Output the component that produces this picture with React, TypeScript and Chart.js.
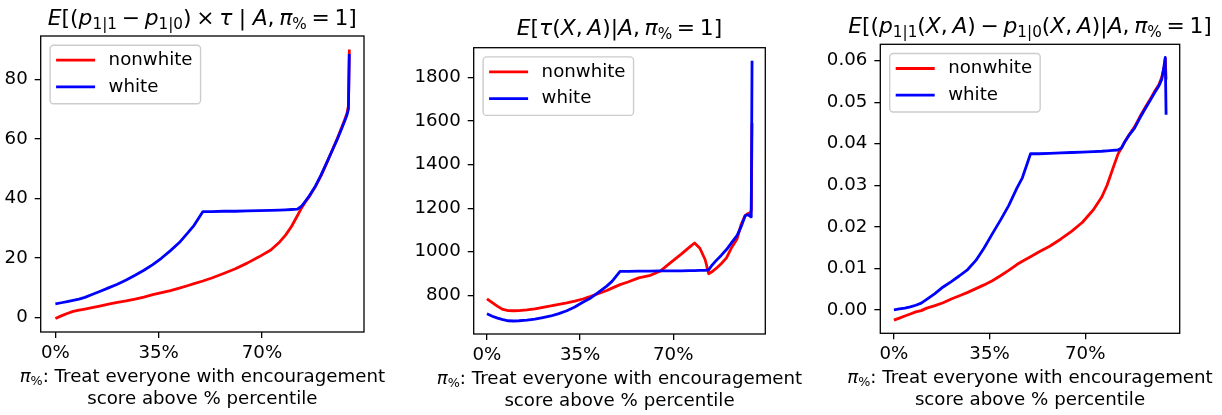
import React, { useEffect, useRef } from "react";
import { Chart, registerables } from "chart.js";

Chart.register(...registerables);

const FONT = "DejaVu Sans";
const FS = 18.2;
const TITLE_FS = 21.8;

// ---------- data ----------
const pct = [0, 2, 4, 6, 8, 10, 12, 15, 18, 21, 24, 27, 30, 33, 36, 39, 42, 45, 47, 50, 53, 57, 61, 65, 69, 73, 76, 78, 80, 82, 83.3, 84.5, 86, 88, 90, 92, 94, 95.5, 97, 98, 98.8, 99.3, 99.6];

const p1Nonwhite = [-0.3, 0.6, 1.4, 2.1, 2.5, 2.9, 3.3, 3.9, 4.5, 5.1, 5.6, 6.2, 6.9, 7.7, 8.4, 9.1, 9.9, 10.8, 11.4, 12.3, 13.3, 14.8, 16.4, 18.3, 20.4, 22.7, 25.4, 27.7, 30.6, 34.2, 36.6, 38.5, 40.6, 43.8, 47.6, 52.0, 56.6, 60.0, 63.8, 66.3, 68.5, 71.0, 90.0];
const p1White = [4.6, 5.0, 5.4, 5.8, 6.2, 6.8, 7.6, 8.8, 10.0, 11.2, 12.6, 14.2, 15.9, 17.8, 20.0, 22.5, 25.2, 28.6, 31.0, 35.6, 35.6, 35.7, 35.7, 35.8, 35.9, 36.0, 36.1, 36.2, 36.3, 36.4, 37.3, 38.8, 40.8, 43.9, 47.8, 52.1, 56.5, 59.8, 63.4, 65.9, 68.0, 70.0, 88.5];

const p2Nonwhite = [784, 766, 749, 735, 730, 729, 730, 733, 738, 745, 751, 758, 765, 773, 783, 795, 808, 822, 833, 849, 861, 880, 890, 910, 950, 989, 1020, 1040, 1016, 963, 899, 908, 922, 945, 972, 1021, 1060, 1125, 1166, 1175, 1178, 1190, 1590];
const p2White = [715, 704, 695, 688, 683, 682, 683, 686, 691, 698, 705, 716, 729, 746, 768, 788, 815, 842, 864, 910, 910, 911, 911, 912, 912, 912, 913, 913, 914, 915, 917, 937, 958, 983, 1010, 1043, 1075, 1115, 1165, 1170, 1163, 1160, 1877];

const p3Nonwhite = [-0.0025, -0.002, -0.0015, -0.001, -0.0005, -0.0002, 0.0004, 0.001, 0.0017, 0.0026, 0.0034, 0.0042, 0.0051, 0.006, 0.007, 0.0082, 0.0095, 0.0109, 0.0117, 0.0128, 0.0139, 0.0153, 0.017, 0.0189, 0.0211, 0.0241, 0.0271, 0.03, 0.0338, 0.0375, 0.039, 0.0405, 0.0421, 0.044, 0.0465, 0.0488, 0.051, 0.0527, 0.0543, 0.056, 0.0582, 0.0605, 0.0555];
const p3White = [0.0, 0.0002, 0.0004, 0.0007, 0.0011, 0.0016, 0.0025, 0.0039, 0.0055, 0.0068, 0.0082, 0.0097, 0.0119, 0.0149, 0.0183, 0.0216, 0.0251, 0.0293, 0.0318, 0.0376, 0.0376, 0.0377, 0.0378, 0.0379, 0.038, 0.0381, 0.0382, 0.0383, 0.0384, 0.0385, 0.039, 0.0405, 0.042, 0.0437, 0.0462, 0.0485, 0.0507, 0.0524, 0.054, 0.0555, 0.0585, 0.0608, 0.047];

const xTickValues = [0, 35, 70];
const xTickLabels = ["0%", "35%", "70%"];
const p1YTicks = [0, 20, 40, 60, 80];
const p2YTicks = [800, 1000, 1200, 1400, 1600, 1800];
const p3YTicks = [0, 0.01, 0.02, 0.03, 0.04, 0.05, 0.06];
const seriesLabels = ["nonwhite", "white"];
const seriesColors = ["#ff0000", "#0000ff"];

// text pieces: t = text, i = italic, s = subscript, g = gap (em)
type Seg = { t: string; i?: boolean; s?: boolean; g?: number };
const SP = 0.215;
const TH = 0.3;

const title1: Seg[] = [
  { t: "E", i: true }, { t: "[(" }, { t: "p", i: true }, { t: "1|1", s: true },
  { t: "", g: SP }, { t: "−" }, { t: "", g: SP }, { t: "p", i: true }, { t: "1|0", s: true },
  { t: ")" }, { t: "", g: SP }, { t: "×" }, { t: "", g: SP },
  { t: "τ", i: true }, { t: "", g: TH }, { t: "|" }, { t: "", g: TH }, { t: "A", i: true }, { t: "," }, { t: "", g: SP },
  { t: "π", i: true }, { t: "%", s: true }, { t: "", g: SP }, { t: "=" }, { t: "", g: SP }, { t: "1]" },
];
const title2: Seg[] = [
  { t: "E", i: true }, { t: "[" }, { t: "τ", i: true }, { t: "(" }, { t: "X", i: true },
  { t: "," }, { t: "", g: SP }, { t: "A", i: true }, { t: ")|" }, { t: "A", i: true }, { t: "," }, { t: "", g: SP },
  { t: "π", i: true }, { t: "%", s: true }, { t: "", g: SP }, { t: "=" }, { t: "", g: SP }, { t: "1]" },
];
const title3: Seg[] = [
  { t: "E", i: true }, { t: "[(" }, { t: "p", i: true }, { t: "1|1", s: true },
  { t: "(" }, { t: "X", i: true }, { t: "," }, { t: "", g: SP }, { t: "A", i: true }, { t: ")" },
  { t: "", g: SP }, { t: "−" }, { t: "", g: SP },
  { t: "p", i: true }, { t: "1|0", s: true }, { t: "(" }, { t: "X", i: true },
  { t: "," }, { t: "", g: SP }, { t: "A", i: true }, { t: ")|" }, { t: "A", i: true }, { t: "," }, { t: "", g: SP },
  { t: "π", i: true }, { t: "%", s: true }, { t: "", g: SP }, { t: "=" }, { t: "", g: SP }, { t: "1]" },
];
const xLabelLine1: Seg[] = [
  { t: "π", i: true }, { t: "%", s: true }, { t: ": Treat everyone with encouragement" },
];
const xLabelLine2: Seg[] = [{ t: "score above % percentile" }];

// ---------- drawing helpers ----------
function fontStr(size: number, italic: boolean) {
  return `${italic ? "italic " : ""}${size}px "${FONT}"`;
}

function drawRich(ctx: CanvasRenderingContext2D, segs: Seg[], cx: number, y: number, size: number) {
  const widths = segs.map((sg) => {
    if (sg.g) return sg.g * size;
    ctx.font = fontStr(sg.s ? size * 0.7 : size, !!sg.i);
    return ctx.measureText(sg.t).width;
  });
  const total = widths.reduce((a, b) => a + b, 0);
  let x = cx - total / 2;
  ctx.textAlign = "left";
  ctx.textBaseline = "alphabetic";
  ctx.fillStyle = "#000";
  segs.forEach((sg, k) => {
    if (sg.t) {
      ctx.font = fontStr(sg.s ? size * 0.7 : size, !!sg.i);
      ctx.fillText(sg.t, x, y + (sg.s ? size * 0.17 : 0));
    }
    x += widths[k];
  });
}

function roundRectPath(ctx: CanvasRenderingContext2D, x: number, y: number, w: number, h: number, r: number) {
  ctx.beginPath();
  ctx.moveTo(x + r, y);
  ctx.lineTo(x + w - r, y);
  ctx.arcTo(x + w, y, x + w, y + r, r);
  ctx.lineTo(x + w, y + h - r);
  ctx.arcTo(x + w, y + h, x + w - r, y + h, r);
  ctx.lineTo(x + r, y + h);
  ctx.arcTo(x, y + h, x, y + h - r, r);
  ctx.lineTo(x, y + r);
  ctx.arcTo(x, y, x + r, y, r);
  ctx.closePath();
}

const LINE_W = 2.8;

const decorPlugin = {
  id: "decor",
  afterDatasetsDraw(chart: any, _args: any, opts: any) {
    const ctx: CanvasRenderingContext2D = chart.ctx;
    const a = chart.chartArea;
    ctx.save();
    // axes box
    ctx.strokeStyle = "#000";
    ctx.lineWidth = 1.3;
    ctx.strokeRect(a.left, a.top, a.right - a.left, a.bottom - a.top);

    // legend
    ctx.font = fontStr(FS, false);
    const tw = Math.max(...seriesLabels.map((l) => ctx.measureText(l).width));
    const bx = a.left + 9.4;
    const by = a.top + 9.2;
    const bw = 58.5 + tw + 8;
    const bh = 58.5;
    roundRectPath(ctx, bx, by, bw, bh, 3.5);
    ctx.fillStyle = "rgba(255,255,255,0.8)";
    ctx.fill();
    ctx.strokeStyle = "#cccccc";
    ctx.lineWidth = 1.4;
    ctx.stroke();
    const rows = [15, 41.7];
    seriesLabels.forEach((lab, k) => {
      const ry = by + rows[k];
      ctx.strokeStyle = seriesColors[k];
      ctx.lineWidth = LINE_W;
      ctx.lineCap = "butt";
      ctx.beginPath();
      ctx.moveTo(bx + 6, ry);
      ctx.lineTo(bx + 45, ry);
      ctx.stroke();
      ctx.fillStyle = "#000";
      ctx.font = fontStr(FS, false);
      ctx.textAlign = "left";
      ctx.textBaseline = "middle";
      ctx.fillText(lab, bx + 58.5, ry);
    });

    // title
    const cx = (a.left + a.right) / 2;
    drawRich(ctx, opts.title, cx, opts.titleBaseline, TITLE_FS);
    // x label
    drawRich(ctx, xLabelLine1, cx, a.bottom + 50, FS);
    drawRich(ctx, xLabelLine2, cx, a.bottom + 71.5, FS);
    ctx.restore();
  },
};

type PanelCfg = {
  left: number;
  width: number;
  area: { l: number; t: number; r: number; b: number };
  nonwhite: number[];
  white: number[];
  yTicks: number[];
  decimals: number;
  title: Seg[];
  titleBaseline: number;
};

const H = 415;

const panels: PanelCfg[] = [
  { left: 0, width: 410, area: { l: 40.7, t: 36, r: 364, b: 332 }, nonwhite: p1Nonwhite, white: p1White, yTicks: p1YTicks, decimals: 0, title: title1, titleBaseline: 25 },
  { left: 410, width: 402, area: { l: 63.7, t: 47.7, r: 355.3, b: 334 }, nonwhite: p2Nonwhite, white: p2White, yTicks: p2YTicks, decimals: 0, title: title2, titleBaseline: 35 },
  { left: 812, width: 410, area: { l: 68.3, t: 44.3, r: 367.7, b: 333.3 }, nonwhite: p3Nonwhite, white: p3White, yTicks: p3YTicks, decimals: 2, title: title3, titleBaseline: 33.3 },
];

function Panel({ cfg }: { cfg: PanelCfg }) {
  const ref = useRef<HTMLCanvasElement | null>(null);
  useEffect(() => {
    if (!ref.current) return;
    const all = [...cfg.nonwhite, ...cfg.white];
    const lo = Math.min(...all);
    const hi = Math.max(...all);
    const my = (hi - lo) * 0.05;
    const xlo = Math.min(...pct);
    const xhi = Math.max(...pct);
    const mx = (xhi - xlo) * 0.05;
    const tickFont = { family: FONT, size: FS };
    const chart = new Chart(ref.current, {
      type: "line",
      data: {
        datasets: [
          {
            label: seriesLabels[0],
            data: pct.map((x, i) => ({ x, y: cfg.nonwhite[i] })),
            borderColor: seriesColors[0],
            backgroundColor: seriesColors[0],
            borderWidth: LINE_W,
            pointRadius: 0,
            tension: 0,
            fill: false,
            borderJoinStyle: "round",
            order: 2,
          },
          {
            label: seriesLabels[1],
            data: pct.map((x, i) => ({ x, y: cfg.white[i] })),
            borderColor: seriesColors[1],
            backgroundColor: seriesColors[1],
            borderWidth: LINE_W,
            pointRadius: 0,
            tension: 0,
            fill: false,
            borderJoinStyle: "round",
            order: 1,
          },
        ],
      },
      options: {
        responsive: false,
        animation: false,
        events: [],
        layout: { padding: { left: 0, top: cfg.area.t, right: cfg.width - cfg.area.r, bottom: 0 } },
        plugins: {
          legend: { display: false },
          title: { display: false },
          tooltip: { enabled: false },
          decor: { title: cfg.title, titleBaseline: cfg.titleBaseline },
        } as any,
        scales: {
          x: {
            type: "linear",
            min: xlo - mx,
            max: xhi + mx,
            afterBuildTicks: (ax: any) => {
              ax.ticks = xTickValues.map((v) => ({ value: v }));
            },
            afterFit: (ax: any) => {
              ax.height = H - cfg.area.b;
            },
            ticks: {
              color: "#000",
              font: tickFont,
              padding: 4,
              maxRotation: 0,
              autoSkip: false,
              callback: (_v: any, i: number) => xTickLabels[i],
            },
            grid: { drawOnChartArea: false, drawTicks: true, tickLength: 6, color: "#000", lineWidth: 1.3 },
            border: { display: false },
          },
          y: {
            type: "linear",
            min: lo - my,
            max: hi + my,
            afterBuildTicks: (ax: any) => {
              ax.ticks = cfg.yTicks.map((v) => ({ value: v }));
            },
            afterFit: (ax: any) => {
              ax.width = cfg.area.l;
            },
            ticks: {
              color: "#000",
              font: tickFont,
              padding: 7,
              autoSkip: false,
              callback: (v: any) => Number(v).toFixed(cfg.decimals),
            },
            grid: { drawOnChartArea: false, drawTicks: true, tickLength: 6, color: "#000", lineWidth: 1.3 },
            border: { display: false },
          },
        },
      } as any,
      plugins: [decorPlugin],
    });
    return () => chart.destroy();
  }, [cfg]);
  return (
    <canvas
      ref={ref}
      width={cfg.width}
      height={H}
      style={{ position: "absolute", left: cfg.left, top: 0, width: cfg.width, height: H }}
    />
  );
}

export default function App() {
  return (
    <div style={{ position: "absolute", left: 0, top: 0, width: 1222, height: H, background: "#fff" }}>
      {panels.map((p, i) => (
        <Panel key={i} cfg={p} />
      ))}
    </div>
  );
}
